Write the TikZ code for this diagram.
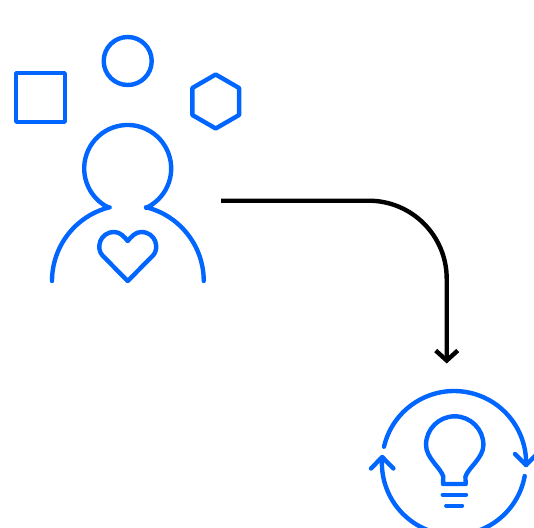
\documentclass[tikz,border=0pt]{standalone}
\usepackage{tikz}
\usetikzlibrary{arrows.meta,shapes.geometric}
\definecolor{iconblue}{HTML}{0066FF}

\begin{document}
\begin{tikzpicture}[x=1pt,y=-1pt,
    icon/.style={draw=iconblue, line width=4.4pt, line cap=round, line join=round},
    iconnode/.style={icon, inner sep=0pt, outer sep=0pt},
    barb/.style={-{Straight Barb[length=10pt,width=22pt,line width=4.4pt]}}]
  \path[use as bounding box] (0,0) rectangle (534,527);
  \clip (0,0) rectangle (534,527);
  % things around the head
  \node[iconnode,rectangle,minimum size=48.5pt] (square) at (40.5,97.5) {};
  \node[iconnode,circle,minimum size=48pt] (ball) at (127.7,61) {};
  \node[iconnode,regular polygon,regular polygon sides=6,shape border rotate=30,minimum size=54pt] (hexa) at (215.7,101.5) {};
  % person
  \draw[icon] (52,281) arc[start angle=180,end angle=103.9,radius=76pt]
    -- (109.3,207.9) arc[start angle=245,end angle=-65,radius=43.5pt]
    -- (146,207.2) arc[start angle=76.1,end angle=0,radius=76pt];
  % heart
  \draw[icon] (127.7,281) -- (102.5,255.5)
    .. controls (96,249) and (99,232) .. (114.5,232)
    .. controls (120,232) and (124.5,237) .. (127.7,241)
    .. controls (131,237) and (135.5,232) .. (141,232)
    .. controls (156.5,232) and (159.5,249) .. (153,255.5) -- cycle;
  % connector
  \coordinate (from) at (221,200.7);
  \coordinate (to) at (446.7,363.5);
  \draw[line width=4.4pt,rounded corners=78pt,barb] (from) -- (from -| to) -- (to);
  % loop
  \coordinate (righttip) at (526,465);
  \coordinate (lefttip) at (382.2,457);
  \draw[icon] (384,446.7) arc[start angle=166.9,end angle=-1.6,radius=72pt];
  \draw[icon] (524.7,476) arc[start angle=-10.4,end angle=-184.4,radius=72pt];
  \draw[icon] (515,454) -- (righttip) -- (537,454);
  \draw[icon] (371,468.5) -- (lefttip) -- (393.4,468.5);
  % bulb
  \draw[icon] (443,484) -- (443.3,476.7)
    .. controls (441,468) and (426,458) .. (426,445)
    arc[start angle=180,end angle=0,radius=28.7pt]
    .. controls (483.4,458) and (468,468) .. (465.4,476.7) -- (465.7,484) -- cycle;
  \draw[icon] (442.7,494.7) -- (466,494.7);
  \draw[icon] (446.3,505.7) -- (462,505.7);
\end{tikzpicture}
\end{document}
